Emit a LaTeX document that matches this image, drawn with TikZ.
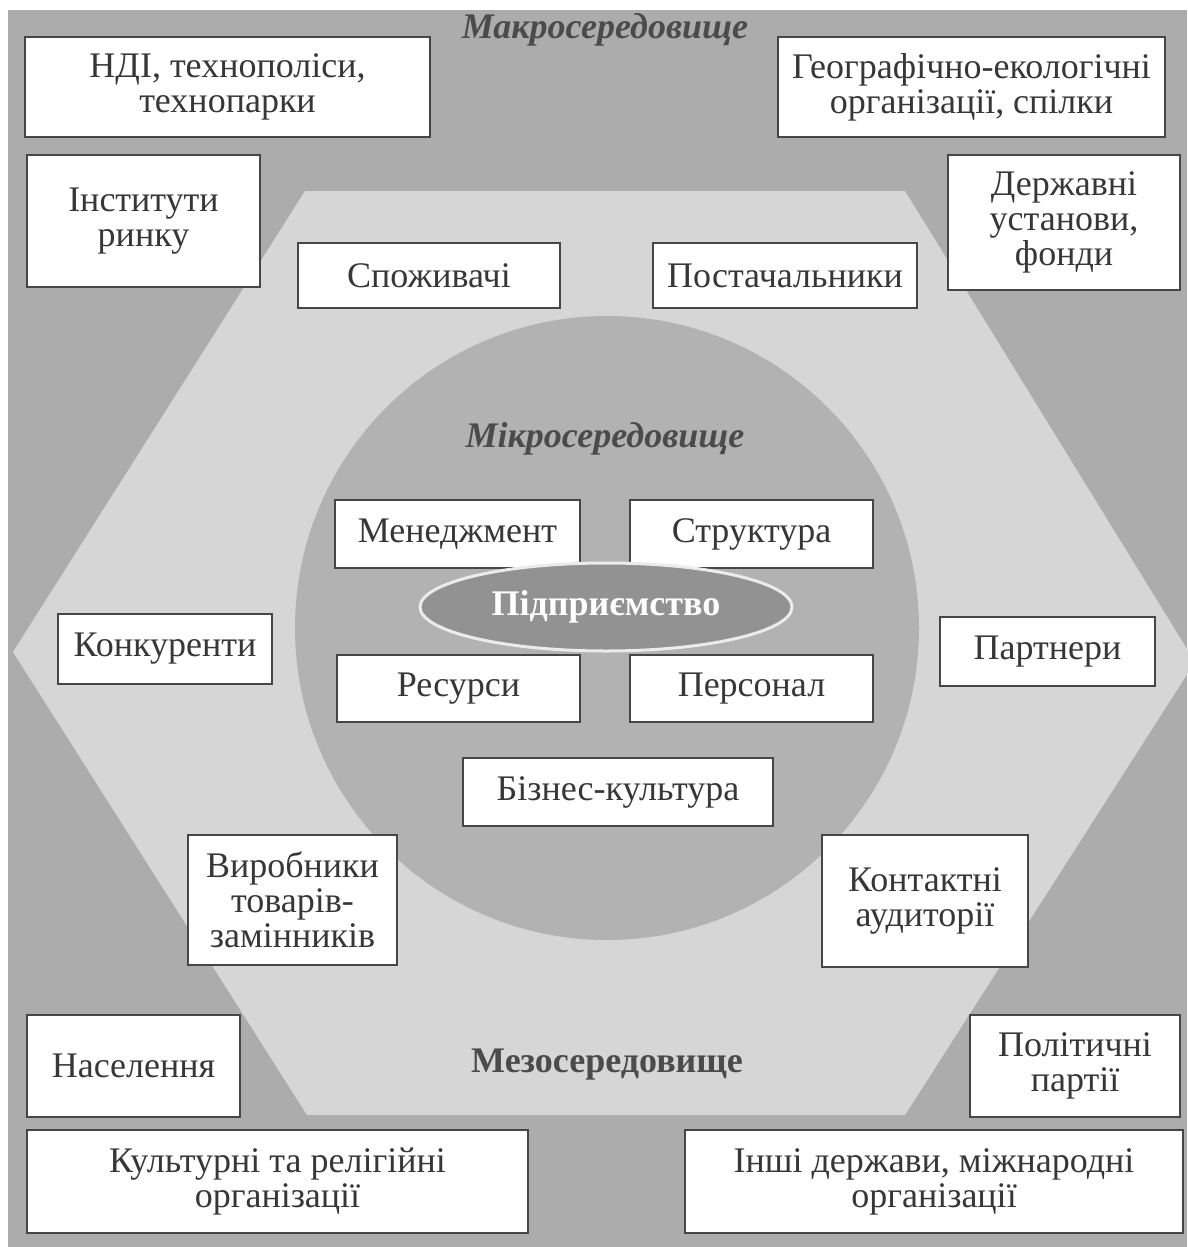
\documentclass[tikz,border=0pt]{standalone}
\usepackage{fontspec}
\setmainfont{Liberation Serif}
\usetikzlibrary{shapes.geometric}
\definecolor{outerbg}{RGB}{172,172,172}
\definecolor{hexbg}{RGB}{214,214,214}
\definecolor{circbg}{RGB}{178,178,178}
\definecolor{ellbg}{RGB}{146,146,146}
\definecolor{boxc}{RGB}{70,70,70}
\definecolor{txt}{RGB}{55,55,55}
\definecolor{lblc}{RGB}{75,75,75}
\newcommand\fsz{\fontsize{36}{35}\selectfont}
\begin{document}
\begin{tikzpicture}[x=1pt,y=-1pt,
  bx/.style={draw=boxc, line width=2.5pt, fill=white, inner sep=0pt, align=center, font=\fsz, text=txt},
  lbl/.style={font=\fsz\bfseries, text=lblc, inner sep=0pt}]
\useasboundingbox (0,0) rectangle (1187,1247);
\fill[white] (0,0) rectangle (1187,1247);
\fill[outerbg] (8,10) rectangle (1187,1247);
\fill[hexbg] (305,191) -- (905,191) -- (1195,662) -- (905,1115) -- (307,1115) -- (13,652) -- cycle;
\fill[circbg] (607,628) circle [radius=312pt];
% macro level
\node[lbl, font=\fsz\bfseries\itshape] (macro) at (605,30) {Макросередовище};
\node[bx, minimum width=405pt, minimum height=100pt] (ndi) at (227.5,87) {НДІ, технополіси,\\технопарки};
\node[bx, minimum width=387pt, minimum height=100pt] (geo) at (971.5,87) {Географічно-екологічні\\організації, спілки};
\node[bx, minimum width=233pt, minimum height=132pt] (inst) at (143.5,221) {Інститути\\ринку};
\node[bx, minimum width=232pt, minimum height=135pt] (derzh) at (1064,222.5) {Державні\\установи,\\фонди};
\node[bx, minimum width=213pt, minimum height=102pt] (nas) at (133.5,1066) {Населення};
\node[bx, minimum width=210pt, minimum height=102pt] (pol) at (1075,1066) {Політичні\\партії};
\node[bx, minimum width=501pt, minimum height=103pt] (kult) at (277.5,1181.5) {Культурні та релігійні\\організації};
\node[bx, minimum width=498pt, minimum height=103pt] (inshi) at (934,1181.5) {Інші держави, міжнародні\\організації};
% meso level
\node[lbl] (meso) at (607,1065) {Мезосередовище};
\node[bx, minimum width=262pt, minimum height=65pt] (spoz) at (429,275.5) {Споживачі};
\node[bx, minimum width=264pt, minimum height=65pt] (post) at (785,275.5) {Постачальники};
\node[bx, minimum width=214pt, minimum height=70pt] (konk) at (165,649) {Конкуренти};
\node[bx, minimum width=215pt, minimum height=69pt] (part) at (1047.5,651.5) {Партнери};
\node[bx, minimum width=209pt, minimum height=130pt] (vyr) at (292.5,900) {Виробники\\товарів-\\замінників};
\node[bx, minimum width=206pt, minimum height=132pt] (kont) at (925,901) {Контактні\\аудиторії};
% micro level
\node[lbl, font=\fsz\bfseries\itshape] (micro) at (605,439) {Мікросередовище};
\node[bx, minimum width=245pt, minimum height=68pt] (men) at (457.5,534) {Менеджмент};
\node[bx, minimum width=243pt, minimum height=68pt] (str) at (751.5,534) {Структура};
\node[bx, minimum width=243pt, minimum height=67pt] (res) at (458.5,688.5) {Ресурси};
\node[bx, minimum width=243pt, minimum height=67pt] (pers) at (751.5,688.5) {Персонал};
\node[bx, minimum width=310pt, minimum height=68pt] (biz) at (618,792) {Бізнес-культура};
\node[ellipse, draw=white!92!black, line width=3pt, fill=ellbg, minimum width=372pt, minimum height=88pt, inner sep=0pt, text=white, font=\fsz\bfseries] (ent) at (606,607) {Підприємство};
\end{tikzpicture}
\end{document}
